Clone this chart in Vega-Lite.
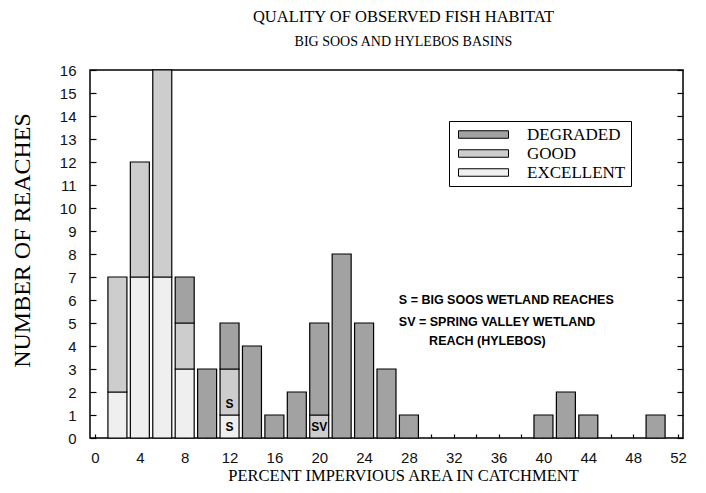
{
  "$schema": "https://vega.github.io/schema/vega-lite/v6.json",
  "width": 593,
  "height": 368,
  "autosize": {"type": "none"},
  "padding": {"left": 90, "top": 70, "right": 23, "bottom": 55},
  "background": "white",
  "title": {
    "text": "QUALITY OF OBSERVED FISH HABITAT",
    "subtitle": "BIG SOOS AND HYLEBOS BASINS",
    "font": "Liberation Serif",
    "fontSize": 16.5,
    "fontWeight": "normal",
    "color": "black",
    "subtitleFont": "Liberation Serif",
    "subtitleFontSize": 14,
    "subtitleColor": "black",
    "subtitlePadding": 10,
    "anchor": "middle",
    "frame": "group",
    "dx": 17,
    "offset": 14
  },
  "datasets": {
    "reaches": [
      {"pct": 2, "quality": "EXCELLENT", "level": 1, "n": 2},
      {"pct": 2, "quality": "GOOD", "level": 2, "n": 5},
      {"pct": 4, "quality": "EXCELLENT", "level": 1, "n": 7},
      {"pct": 4, "quality": "GOOD", "level": 2, "n": 5},
      {"pct": 6, "quality": "EXCELLENT", "level": 1, "n": 7},
      {"pct": 6, "quality": "GOOD", "level": 2, "n": 9},
      {"pct": 8, "quality": "EXCELLENT", "level": 1, "n": 3},
      {"pct": 8, "quality": "GOOD", "level": 2, "n": 2},
      {"pct": 8, "quality": "DEGRADED", "level": 3, "n": 2},
      {"pct": 10, "quality": "DEGRADED", "level": 3, "n": 3},
      {"pct": 12, "quality": "EXCELLENT", "level": 1, "n": 1},
      {"pct": 12, "quality": "GOOD", "level": 2, "n": 2},
      {"pct": 12, "quality": "DEGRADED", "level": 3, "n": 2},
      {"pct": 14, "quality": "DEGRADED", "level": 3, "n": 4},
      {"pct": 16, "quality": "DEGRADED", "level": 3, "n": 1},
      {"pct": 18, "quality": "DEGRADED", "level": 3, "n": 2},
      {"pct": 20, "quality": "GOOD", "level": 2, "n": 1},
      {"pct": 20, "quality": "DEGRADED", "level": 3, "n": 4},
      {"pct": 22, "quality": "DEGRADED", "level": 3, "n": 8},
      {"pct": 24, "quality": "DEGRADED", "level": 3, "n": 5},
      {"pct": 26, "quality": "DEGRADED", "level": 3, "n": 3},
      {"pct": 28, "quality": "DEGRADED", "level": 3, "n": 1},
      {"pct": 40, "quality": "DEGRADED", "level": 3, "n": 1},
      {"pct": 42, "quality": "DEGRADED", "level": 3, "n": 2},
      {"pct": 44, "quality": "DEGRADED", "level": 3, "n": 1},
      {"pct": 50, "quality": "DEGRADED", "level": 3, "n": 1}
    ],
    "marks": [
      {"pct": 12, "y": 0.5, "label": "S"},
      {"pct": 12, "y": 1.5, "label": "S"},
      {"pct": 20, "y": 0.5, "label": "SV"}
    ],
    "notes": [
      {"pct": 27.1, "y": 6.0, "label": "S = BIG SOOS WETLAND REACHES"},
      {"pct": 27.1, "y": 5.05, "label": "SV = SPRING VALLEY WETLAND"},
      {"pct": 29.8, "y": 4.2, "label": "REACH (HYLEBOS)"}
    ]
  },
  "config": {
    "view": {"stroke": "black", "strokeWidth": 1.5},
    "axis": {
      "grid": false,
      "domain": false,
      "ticks": true,
      "tickColor": "black",
      "tickWidth": 1.2,
      "tickOpacity": 1,
      "labelFont": "Liberation Sans",
      "labelFontSize": 15,
      "labelColor": "#111111",
      "titleFont": "Liberation Serif",
      "titleFontWeight": "normal",
      "titleColor": "black",
      "zindex": 1
    }
  },
  "resolve": {"axis": {"x": "independent", "y": "independent"}},
  "layer": [
    {
      "data": {"name": "reaches"},
      "mark": {"type": "bar", "width": 19, "stroke": "black", "strokeWidth": 1.2},
      "encoding": {
        "x": {
          "field": "pct",
          "type": "quantitative",
          "scale": {"domain": [0, 52], "nice": false},
          "axis": {
            "values": [0, 2, 4, 6, 8, 10, 12, 14, 16, 18, 20, 22, 24, 26, 28, 30, 32, 34, 36, 38, 40, 42, 44, 46, 48, 50, 52],
            "labelExpr": "datum.value % 4 === 0 ? datum.label : ''",
            "offset": -4,
            "tickSize": 4,
            "labelPadding": 12,
            "labelFlush": false,
            "labelOverlap": false,
            "title": "PERCENT IMPERVIOUS AREA IN CATCHMENT",
            "titleFontSize": 16.5,
            "titleX": 313,
            "titleY": 41,
            "titleAlign": "center",
            "titleBaseline": "middle"
          }
        },
        "y": {
          "aggregate": "sum",
          "field": "n",
          "type": "quantitative",
          "stack": "zero",
          "scale": {"domain": [0, 16], "nice": false},
          "axis": {
            "values": [0, 1, 2, 3, 4, 5, 6, 7, 8, 9, 10, 11, 12, 13, 14, 15, 16],
            "offset": -6,
            "tickSize": 6,
            "labelPadding": 14,
            "labelOverlap": false,
            "labelFlush": false,
            "title": "NUMBER OF REACHES",
            "titleFontSize": 24,
            "titleX": -74,
            "titleY": 170,
            "titleAngle": -90,
            "titleAlign": "center",
            "titleBaseline": "middle"
          }
        },
        "color": {
          "field": "quality",
          "type": "nominal",
          "scale": {
            "domain": ["DEGRADED", "GOOD", "EXCELLENT"],
            "range": ["#a2a2a2", "#cdcdcd", "#efefef"]
          },
          "legend": {
            "title": null,
            "orient": "none",
            "legendX": 359,
            "legendY": 51,
            "strokeColor": "black",
            "fillColor": "white",
            "padding": 5,
            "symbolType": "M-5,-0.75L5,-0.75L5,0.75L-5,0.75Z",
            "symbolSize": 100,
            "symbolStrokeColor": "black",
            "symbolStrokeWidth": 1,
            "symbolOpacity": 1,
            "symbolOffset": 21,
            "labelOffset": 35,
            "labelFont": "Liberation Serif",
            "labelFontSize": 17,
            "labelColor": "black",
            "rowPadding": 1
          }
        },
        "order": {"field": "level", "type": "quantitative", "sort": "ascending"}
      }
    },
    {
      "data": {"name": "marks"},
      "mark": {"type": "text", "font": "Liberation Sans", "fontWeight": "bold", "fontSize": 12, "color": "black", "baseline": "middle", "align": "center"},
      "encoding": {
        "x": {"field": "pct", "type": "quantitative", "axis": null},
        "y": {
          "field": "y",
          "type": "quantitative",
          "stack": null,
          "axis": {
            "orient": "right",
            "labels": false,
            "title": null,
            "values": [0, 1, 2, 3, 4, 5, 6, 7, 8, 9, 10, 11, 12, 13, 14, 15, 16],
            "offset": -6,
            "tickSize": 6
          }
        },
        "text": {"field": "label"}
      }
    },
    {
      "data": {"name": "notes"},
      "mark": {"type": "text", "font": "Liberation Sans", "fontWeight": "bold", "fontSize": 12.5, "color": "black", "baseline": "middle", "align": "left"},
      "encoding": {
        "x": {"field": "pct", "type": "quantitative", "axis": null},
        "y": {"field": "y", "type": "quantitative", "stack": null, "axis": null},
        "text": {"field": "label"}
      }
    }
  ]
}
